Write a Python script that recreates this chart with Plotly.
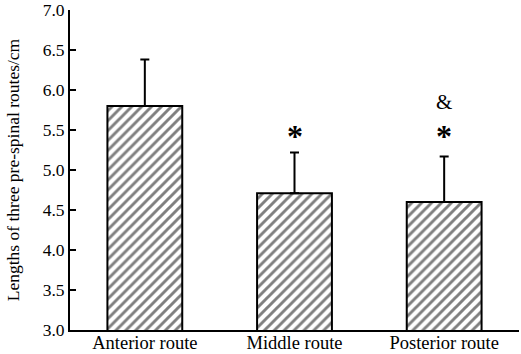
import plotly.graph_objects as go

categories = ["Anterior route", "Middle route", "Posterior route"]
means = [5.80, 4.71, 4.60]
sds = [0.58, 0.51, 0.57]
marks = ["", "*", "*"]
marks2 = ["", "", "&"]
y_ticks = [3.0, 3.5, 4.0, 4.5, 5.0, 5.5, 6.0, 6.5, 7.0]

font = "Liberation Serif, Times New Roman, serif"

fig = go.Figure()
fig.add_trace(go.Bar(
    x=categories, y=means, width=0.5,
    marker=dict(color="white", line=dict(color="black", width=2),
                pattern=dict(shape="/", fgcolor="black", bgcolor="white",
                             size=7, solidity=0.42)),
    error_y=dict(type="data", array=sds, arrayminus=[0]*3, symmetric=False,
                 color="black", thickness=2, width=4.5),
))

star_level = 5.52
amp_level = 5.85
for c, a, b in zip(categories, marks, marks2):
    if a:
        fig.add_annotation(x=c, y=star_level, yref="y", xref="x", text="<b>" + a + "</b>",
                           showarrow=False, yanchor="middle", yshift=-8,
                           font=dict(family=font, size=32, color="black"))
    if b:
        fig.add_annotation(x=c, y=amp_level, yref="y", xref="x", text=b, showarrow=False,
                           yanchor="middle", yshift=0,
                           font=dict(family=font, size=21, color="black"))

fig.update_layout(
    width=521, height=354,
    margin=dict(l=70, r=2, t=10, b=24),
    plot_bgcolor="white", paper_bgcolor="white",
    showlegend=False,
    font=dict(family=font, size=18, color="black"),
    xaxis=dict(range=[-0.5, 2.5], showline=True, linecolor="black", linewidth=2,
               ticks="", tickfont=dict(size=18.5), showgrid=False, zeroline=False,
               automargin=False, ticklabelstandoff=-5),
    yaxis=dict(range=[3, 7], tickvals=y_ticks, ticktext=[f"{v:.1f}" for v in y_ticks],
               showline=True, linecolor="black", linewidth=2, ticks="inside",
               ticklen=6, tickwidth=2, tickcolor="black", showgrid=False, zeroline=False,
               tickfont=dict(size=17.5), automargin=False, ticklabeloverflow="allow",
               title=dict(text="Lengths of three pre-spinal routes/cm",
                          font=dict(size=17.5), standoff=19)),
)

fig.write_html("out.html", config={"displayModeBar": False},
               post_script="document.body.style.margin='0';")
